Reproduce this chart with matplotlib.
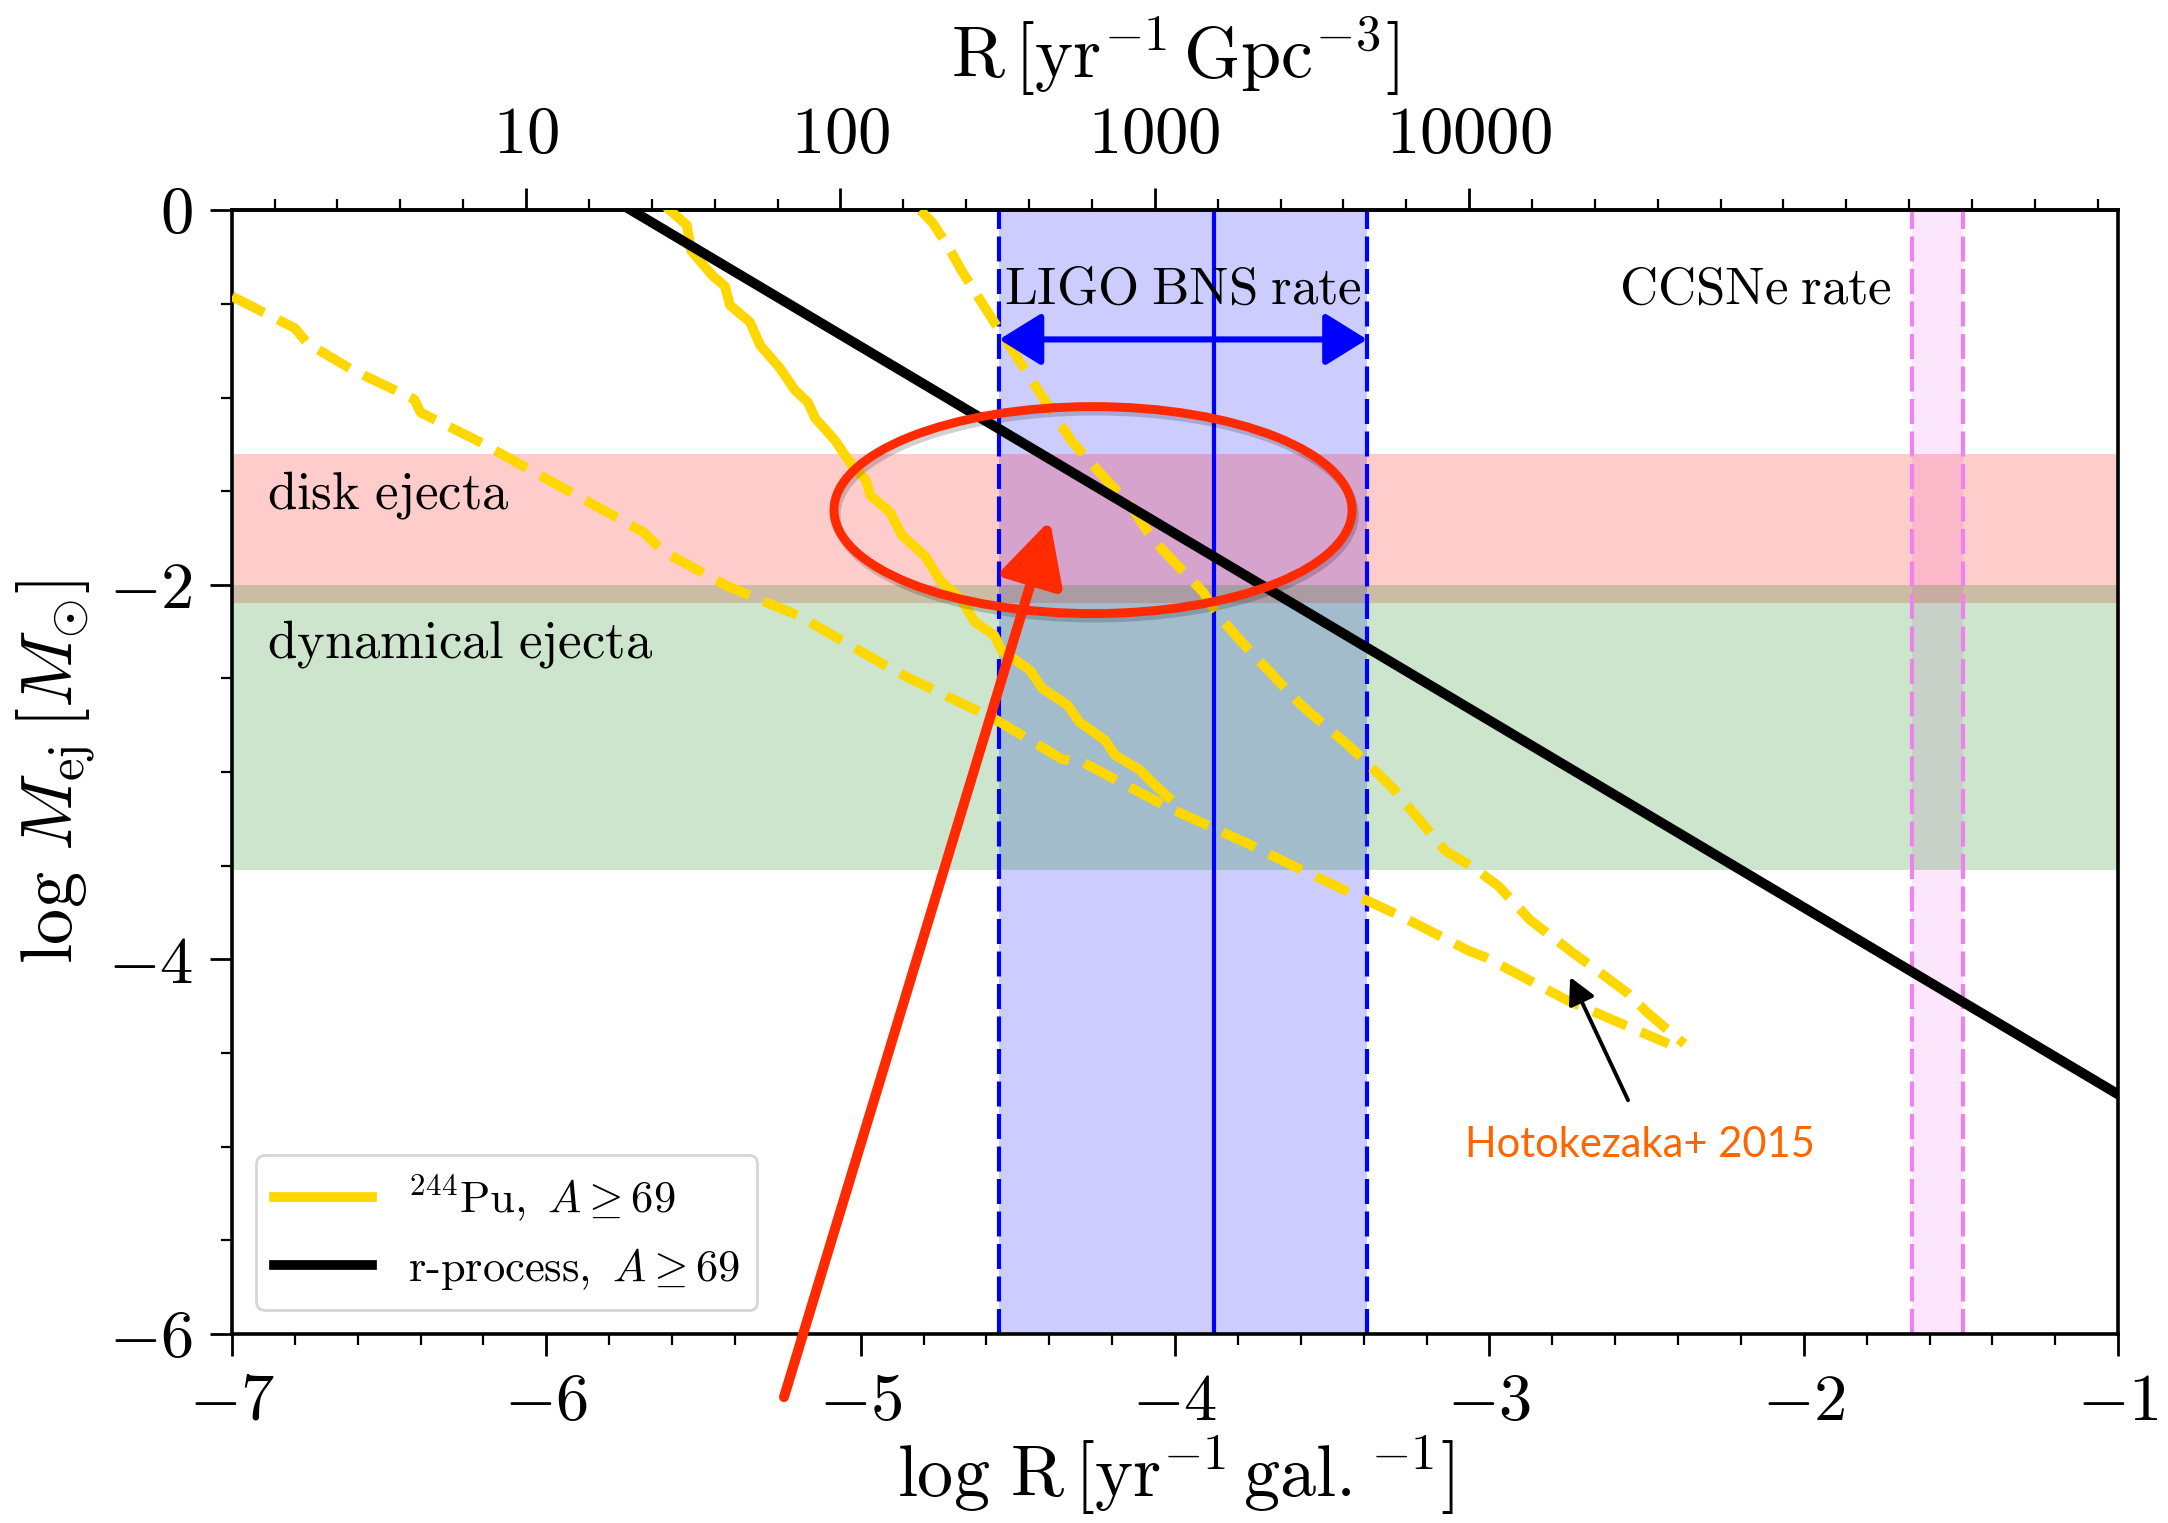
import matplotlib
matplotlib.use('Agg')
import matplotlib.pyplot as plt
from matplotlib.patches import Ellipse
from matplotlib.lines import Line2D
import matplotlib.patheffects as pe
from matplotlib.ticker import MultipleLocator

plt.rcParams.update({
    'font.family': 'serif',
    'font.serif': ['cmr10'],
    'mathtext.fontset': 'cm',
    'axes.unicode_minus': False,
})

# ---------------- data ----------------
LOG_GAL_DENSITY = 7.0645  # log10(MW-equivalent galaxies per Gpc^3): top-axis conversion

# 244Pu constraint, solid (staircase) curve
pu_solid_x = [-5.607, -5.553, -5.540, -5.473, -5.432, -5.416, -5.352, -5.320, -5.257,
              -5.209, -5.168, -5.145, -5.082, -5.028, -4.983, -4.970, -4.907, -4.869,
              -4.795, -4.748, -4.678, -4.637, -4.575, -4.552, -4.461, -4.423, -4.342,
              -4.304, -4.223, -4.191, -4.111, -4.070, -4.022]
pu_solid_y = [0.0, -0.080, -0.214, -0.347, -0.406, -0.507, -0.598, -0.721, -0.843,
              -0.961, -1.025, -1.110, -1.228, -1.361, -1.441, -1.521, -1.612, -1.735,
              -1.847, -1.975, -2.082, -2.199, -2.269, -2.349, -2.456, -2.552, -2.642,
              -2.733, -2.829, -2.909, -2.989, -3.059, -3.133]

# 244Pu contour, lower dashed branch
pu_low_x = [-7.00, -6.80, -6.76, -6.62, -6.42, -6.40, -6.22, -5.95, -5.69, -5.63, -5.42,
            -5.19, -5.13, -4.88, -4.57, -4.36, -4.29, -4.02, -3.77, -3.60, -3.37, -3.28,
            -3.07, -3.01, -2.75, -2.43]
pu_low_y = [-0.46, -0.63, -0.71, -0.85, -1.01, -1.08, -1.23, -1.48, -1.72, -1.82, -2.01,
            -2.17, -2.23, -2.47, -2.72, -2.93, -2.95, -3.19, -3.38, -3.52, -3.70, -3.77,
            -3.95, -3.99, -4.22, -4.45]

# 244Pu contour, upper dashed branch
pu_up_x = [-4.81, -4.77, -4.72, -4.68, -4.62, -4.54, -4.42, -4.33, -4.24, -4.14, -4.07,
           -3.99, -3.91, -3.87, -3.78, -3.60, -3.44, -3.31, -3.23, -3.14, -3.05, -2.97,
           -2.87, -2.73, -2.68, -2.56, -2.50, -2.43, -2.38]
pu_up_y = [0.00, -0.07, -0.20, -0.32, -0.48, -0.69, -1.00, -1.23, -1.40, -1.58, -1.76,
           -1.90, -2.04, -2.15, -2.32, -2.64, -2.87, -3.08, -3.24, -3.42, -3.51, -3.61,
           -3.79, -3.97, -4.03, -4.18, -4.28, -4.38, -4.45]

# r-process line
rproc_x = [-5.73, -1.0]
rproc_y = [0.0, -4.72]

# ejecta mass bands (log M_sun)
disk_band = [-2.097, -1.301]
dyn_band = [-3.52, -2.0]

# rate bands (log R per galaxy)
ligo_low, ligo_mid, ligo_high = -4.559, -3.877, -3.389
ccsn_low, ccsn_high = -1.655, -1.493
ligo_arrow_y = -0.69

xticks = [-7, -6, -5, -4, -3, -2, -1]
xticklabels = [r'$-7$', r'$-6$', r'$-5$', r'$-4$', r'$-3$', r'$-2$', r'$-1$']
yticks = [-6, -4, -2, 0]
yticklabels = [r'$-6$', r'$-4$', r'$-2$', r'$0$']
top_ticks = [1, 2, 3, 4]
top_ticklabels = [r'$10$', r'$100$', r'$1000$', r'$10000$']

# ---------------- figure ----------------
fig = plt.figure(figsize=(10.84, 7.615), dpi=200)
ax = fig.add_axes([0.107, 0.124, 0.870, 0.738])
ax.set_xlim(-7, -1)
ax.set_ylim(-6, 0)

ax.axvspan(ligo_low, ligo_high, color='blue', alpha=0.2, lw=0, zorder=1)
ax.axvspan(ccsn_low, ccsn_high, color='violet', alpha=0.2, lw=0, zorder=1)
ax.axhspan(disk_band[0], disk_band[1], color='red', alpha=0.2, lw=0, zorder=1)
ax.axhspan(dyn_band[0], dyn_band[1], color='green', alpha=0.2, lw=0, zorder=1)

for xv in (ligo_low, ligo_high):
    ax.axvline(xv, color='blue', lw=1.5, ls=(0, (6, 1.8)), zorder=2)
ax.axvline(ligo_mid, color='blue', lw=1.5, zorder=2)
for xv in (ccsn_low, ccsn_high):
    ax.axvline(xv, color='violet', lw=1.5, ls=(0, (6, 1.8)), zorder=2)

ax.plot(pu_low_x, pu_low_y, color='gold', lw=3.5, ls='--', zorder=3)
ax.plot(pu_up_x, pu_up_y, color='gold', lw=3.5, ls='--', zorder=3)
ax.plot(pu_solid_x, pu_solid_y, color='gold', lw=3.5, zorder=3)
ax.plot(rproc_x, rproc_y, color='black', lw=3.6, zorder=4)

ax.annotate('', xy=(ligo_high, ligo_arrow_y), xytext=(ligo_low, ligo_arrow_y),
            arrowprops=dict(arrowstyle='<|-|>,head_length=1.0,head_width=0.62',
                            color='blue', lw=2.2, mutation_scale=13,
                            shrinkA=0, shrinkB=0), zorder=5)

ax.text((ligo_low + ligo_high) / 2, -0.50, r'$\mathrm{LIGO\;BNS\;rate}$',
        ha='center', va='baseline', fontsize=19, zorder=6)
ax.text(-1.72, -0.50, r'$\mathrm{CCSNe\;rate}$', ha='right', va='baseline',
        fontsize=19, zorder=6)
ax.text(-6.89, -1.59, r'$\mathrm{disk\ ejecta}$', ha='left', va='baseline',
        fontsize=19, zorder=6)
ax.text(-6.89, -2.39, r'$\mathrm{dynamical\ ejecta}$', ha='left', va='baseline',
        fontsize=19, zorder=6)

# overlay annotations
ell = Ellipse((-4.261, -1.601), width=1.648, height=1.105, fill=False,
              ec='#FF2A00', lw=3.2, clip_on=False, zorder=10)
ell.set_path_effects([pe.SimpleLineShadow(offset=(0.8, -1.6), shadow_color='k', alpha=0.18),
                      pe.Normal()])
ax.add_patch(ell)

ax.annotate('', xy=(-4.398, -1.655), xytext=(-5.244, -6.336),
            arrowprops=dict(arrowstyle='-|>,head_length=0.95,head_width=0.49',
                            color='#FF2A00', lw=3.6, mutation_scale=20,
                            shrinkA=0, shrinkB=0),
            annotation_clip=False, zorder=11)

ax.annotate('', xy=(-2.743, -4.094), xytext=(-2.559, -4.751),
            arrowprops=dict(arrowstyle='-|>,head_length=0.8,head_width=0.42',
                            color='black', lw=1.4, mutation_scale=10,
                            shrinkA=0, shrinkB=0), zorder=11)
ax.text(-2.521, -4.99, 'Hotokezaka+ 2015', family='Lato', color='#FF6600',
        fontsize=15, ha='center', va='center', zorder=11)

# legend
handles = [Line2D([], [], color='gold', lw=3.5, label=r'$^{244}\mathrm{Pu},\ A \geq 69$'),
           Line2D([], [], color='black', lw=3.5, label=r'$\mathrm{r}$-$\mathrm{process},\ A \geq 69$')]
ax.legend(handles=handles, loc='lower left', fontsize=16, handlelength=2.2,
          borderaxespad=0.55, fancybox=True)

# axes & ticks
ax.set_xticks(xticks)
ax.set_xticklabels(xticklabels)
ax.set_yticks(yticks)
ax.set_yticklabels(yticklabels)
ax.xaxis.set_minor_locator(MultipleLocator(0.2))
ax.yaxis.set_minor_locator(MultipleLocator(0.5))
ax.tick_params(which='both', direction='out', top=False, right=False, labelsize=24)
ax.tick_params(which='major', length=8, width=1.0, pad=6)
ax.tick_params(which='minor', length=4, width=0.8)
for s in ax.spines.values():
    s.set_linewidth(1.3)

secax = ax.secondary_xaxis('top', functions=(lambda x: x + LOG_GAL_DENSITY,
                                            lambda x: x - LOG_GAL_DENSITY))
secax.set_xticks(top_ticks)
secax.set_xticklabels(top_ticklabels)
secax.xaxis.set_minor_locator(MultipleLocator(0.2))
secax.tick_params(which='both', direction='out', labelsize=24)
secax.tick_params(which='major', length=8, width=1.0, pad=8)
secax.tick_params(which='minor', length=4, width=0.8)
secax.spines['top'].set_linewidth(1.3)

ax.set_xlabel(r'$\log\,\mathrm{R}\,[\mathrm{yr}^{-1}\,\mathrm{gal.}^{-1}]$', fontsize=26, labelpad=0)
ax.set_ylabel(r'$\log\,M_{\mathrm{ej}}\,[M_{\odot}]$', fontsize=26, labelpad=4)
secax.set_xlabel(r'$\mathrm{R}\,[\mathrm{yr}^{-1}\,\mathrm{Gpc}^{-3}]$', fontsize=26, labelpad=10)

fig.savefig('out.png', dpi=200)
